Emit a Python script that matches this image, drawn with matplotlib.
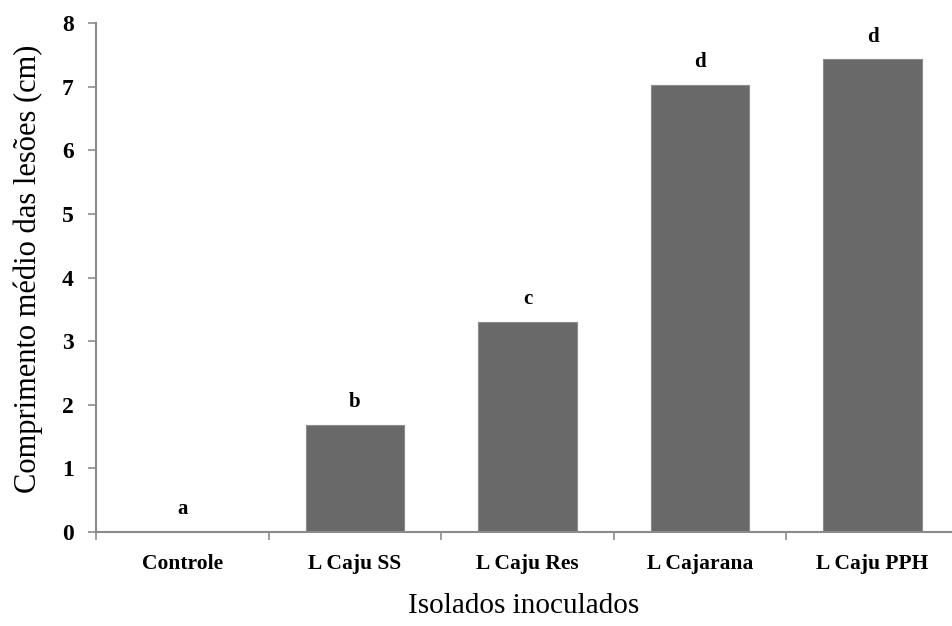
import matplotlib
matplotlib.use("Agg")
import matplotlib.pyplot as plt

categorias = ["Controle", "L Caju SS", "L Caju Res", "L Cajarana", "L Caju PPH"]
comprimento = [0.0, 1.68, 3.30, 7.03, 7.43]
letras = ["a", "b", "c", "d", "d"]

plt.rcParams['font.family'] = ['Liberation Serif', 'DejaVu Serif']

fig = plt.figure(figsize=(9.52, 6.26), dpi=100)
ax = fig.add_axes([96 / 952, 1 - 532 / 626, 1 - 96 / 952, (532 - 23) / 626])

x = list(range(len(categorias)))
ax.bar(x, comprimento, width=0.57, color="#696969", edgecolor="#8c8c8c", linewidth=0.8, zorder=2)

for xi, v, l in zip(x, comprimento, letras):
    ax.text(xi, v + 0.2, l, ha="center", va="bottom", fontsize=15, fontweight="bold")

ax.set_xlim(-0.5, 4.46)
ax.set_ylim(0, 8)
ax.set_yticks(range(0, 9))
ax.set_yticklabels([str(i) for i in range(0, 9)], fontsize=17, fontweight="bold")

# categorias no centro, marcas entre as categorias
ax.set_xticks(x)
ax.set_xticklabels(categorias, fontsize=15.5, fontweight="bold")
ax.tick_params(axis="x", length=0, pad=16)
ax.set_xticks([-0.5, 0.5, 1.5, 2.5, 3.5], minor=True)
ax.tick_params(axis="x", which="minor", length=6, color="#8e8e8e", width=1.2)
ax.tick_params(axis="y", length=6, color="#8e8e8e", width=1.2, pad=10)

for s in ["top", "right"]:
    ax.spines[s].set_visible(False)
for s in ["left", "bottom"]:
    ax.spines[s].set_color("#8a8a8a")
    ax.spines[s].set_linewidth(1.5)

ax.set_xlabel("Isolados inoculados", fontsize=21, va="center")
ax.set_ylabel("Comprimento médio das lesões (cm)", fontsize=22, va="center")
ax.xaxis.set_label_coords(0.5, (532 - 606) / 509)
ax.yaxis.set_label_coords((28 - 96) / 856, (532 - 269) / 509)

fig.savefig("out.png", dpi=100)
